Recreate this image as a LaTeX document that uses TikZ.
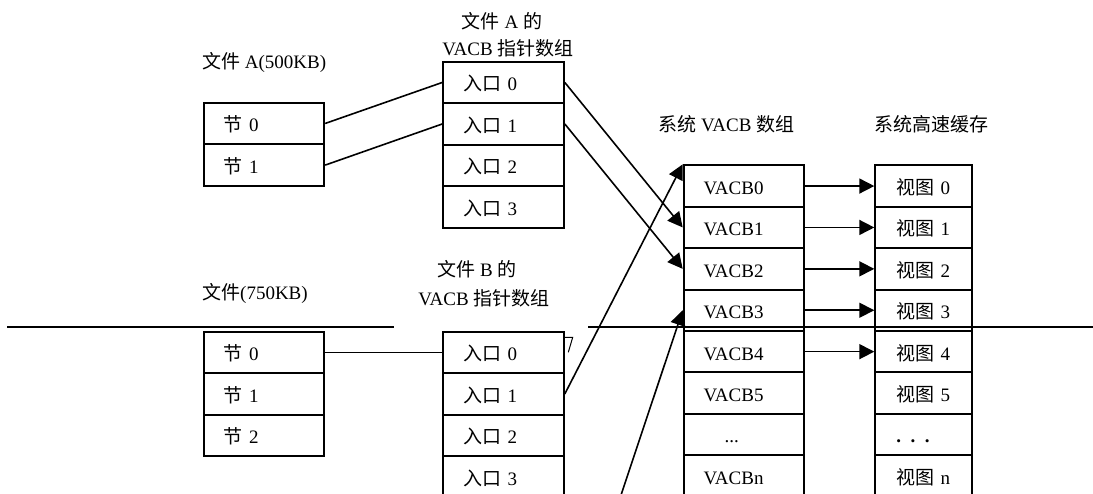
\documentclass[tikz,border=0pt]{standalone}
\usepackage{fontspec}
\setmainfont{Liberation Serif}
\newfontfamily\cjk{Noto Sans CJK SC}
\newcommand{\zh}[1]{{\cjk #1}}
\usetikzlibrary{arrows.meta,calc}
\begin{document}
\begin{tikzpicture}[x=1pt,y=-1pt,
  font=\fontsize{19}{22}\selectfont,
  cell/.style={draw, line width=2pt, rectangle, anchor=north west,
    minimum height=41.5pt, inner xsep=20pt, inner ysep=0pt,
    text width=80.5pt, text height=18pt, text depth=1pt, align=left},
  cachecell/.style={inner xsep=21pt, text width=54.7pt},
  conn/.style={line width=1.6pt},
  arr/.style={line width=1.6pt, -{Triangle[length=15pt,width=15pt]}},
  divider/.style={line width=2pt},
  title/.style={anchor=base, inner sep=0pt}]
\clip (0,0) rectangle (1093,493);
\fill[white] (0,0) rectangle (1093,493);

% titles
\node[title, anchor=base west] (tA) at (202,68.5) {\zh{文件} A(500KB)};
\node[title] (tpA1) at (502,28.5) {\zh{文件} A \zh{的}};
\node[title] (tpA2) at (508,55) {VACB \zh{指针数组}};
\node[title, anchor=base west] (tB) at (202,299.3) {\zh{文件}(750KB)};
\node[title] (tpB1) at (477,276.7) {\zh{文件} B \zh{的}};
\node[title] (tpB2) at (484,305) {VACB \zh{指针数组}};
\node[title] (tV) at (726.3,131.7) {\zh{系统} VACB \zh{数组}};
\node[title] (tC) at (931.7,131.7) {\zh{系统高速缓存}};

% file A sections
\foreach \i in {0,1}
  \node[cell] (a\i) at (202.7,{101.7+41.65*\i}) {\zh{节} \i};
% file A VACB pointer array
\foreach \i in {0,...,3}
  \node[cell] (pa\i) at (442.3,{60.7+41.5*\i}) {\zh{入口} \i};
% file B sections
\foreach \i in {0,1,2}
  \node[cell] (b\i) at (202.7,{330.7+41.4*\i}) {\zh{节} \i};
% file B VACB pointer array
\foreach \i in {0,...,3}
  \node[cell] (pb\i) at (442.3,{330.7+41.5*\i}) {\zh{入口} \i};
% system VACB array
\foreach \i/\t in {0/VACB0,1/VACB1,2/VACB2,3/VACB3,4/VACB4,5/VACB5,6/{\hspace*{21pt}...},7/VACBn}
  \node[cell] (v\i) at (682.7,{164.3+41.4*\i}) {\t};
% system cache
\foreach \i/\t in {0/{\zh{视图} 0},1/{\zh{视图} 1},2/{\zh{视图} 2},3/{\zh{视图} 3},4/{\zh{视图} 4},5/{\zh{视图} 5},6/{\textbf{. . .}},7/{\zh{视图} n}}
  \node[cell,cachecell] (c\i) at (874.3,{164.3+41.4*\i}) {\t};

% connectors
\draw[conn] (a0.east) -- (pa0.west);
\draw[conn] (a1.east) -- (pa1.west);
\draw[conn] (b0.east) -- (pb0.west);
\draw[arr] (pa0.east) -- (v1.west);
\draw[arr] (pa1.east) -- (v2.west);
\draw[arr] (pb1.east) -- (v0.north west);
\coordinate (src) at (616,510);
\draw[arr] (src) -- (v3.west);
\foreach \i in {0,...,4}
  \draw[arr] (v\i.east) -- (c\i.west);

% divider line
\coordinate (h1) at (7,326.7);
\coordinate (h2) at (394,326.7);
\coordinate (h3) at (588,326.7);
\coordinate (h4) at (1093,326.7);
\draw[divider] (h1) -- (h2);
\draw[divider] (h3) -- (h4);

% small stray mark
\draw[line width=1pt] (563.3,337.3) -- (572.7,337.3) -- (568.3,352.3);
\end{tikzpicture}
\end{document}
